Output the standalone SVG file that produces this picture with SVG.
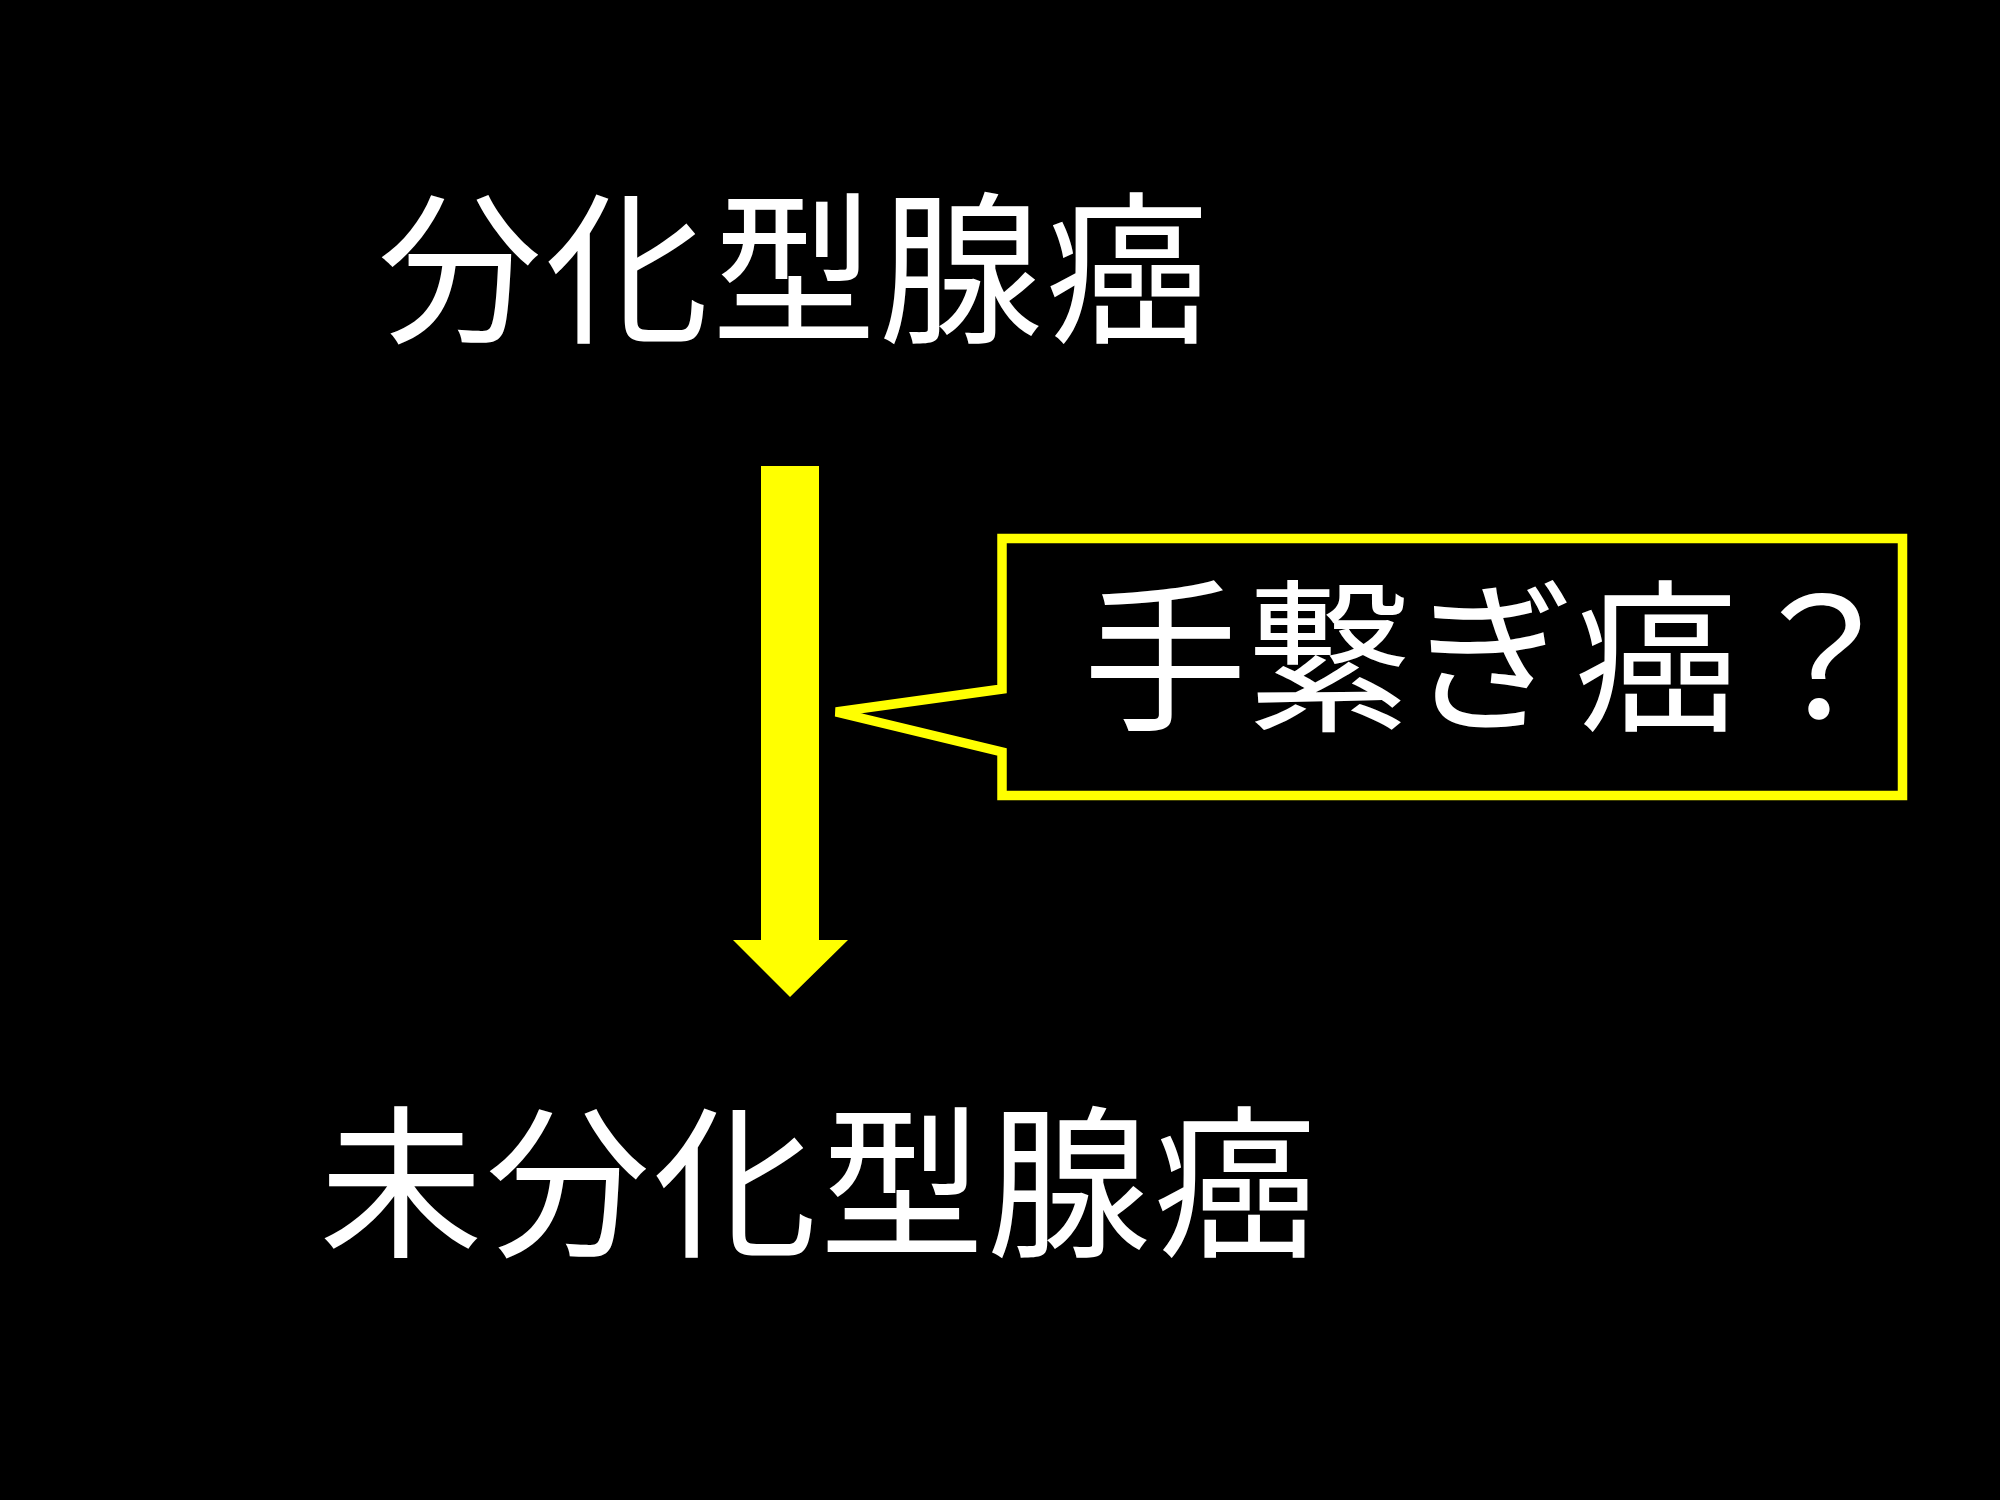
<svg xmlns="http://www.w3.org/2000/svg" width="2000" height="1500" viewBox="0 0 2000 1500">
<style>
.t{font-family:"Noto Sans CJK JP","Noto Sans CJK SC",sans-serif;font-size:164px;fill:#FFFFFF}
.w{letter-spacing:3px}
.y{fill:#FFFF00}
</style>
<rect x="0" y="0" width="2000" height="1500" fill="#000000"/>
<g id="node-top"><text class="t w" x="378" y="330">分化型腺癌</text></g>
<g id="node-bottom"><text class="t w" x="319" y="1244">未分化型腺癌</text></g>
<g id="connectors">
<path class="y" d="M761,466 H819 V940 H848 L790,997 L733,940 H761 Z"/>
</g>
<g id="callout">
<path d="M1002,538.5 H1902.5 V795.5 H1002 V752 L836,712 L1002,689 Z" fill="#000000" stroke="#FFFF00" stroke-width="9.5"/>
<text class="t" x="1083" y="718">手繋ぎ癌？</text>
</g>
</svg>
